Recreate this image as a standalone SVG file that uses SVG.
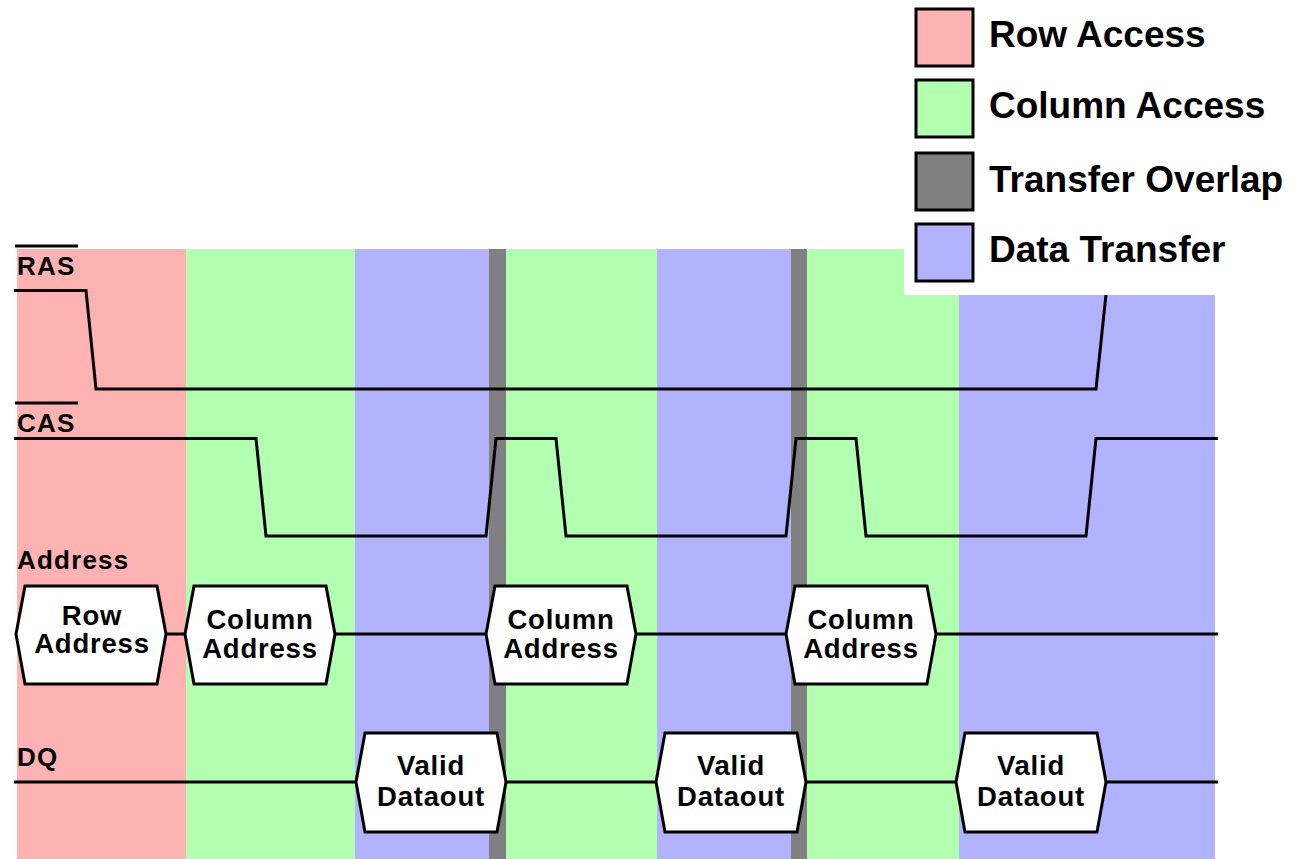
<svg xmlns="http://www.w3.org/2000/svg" width="1293" height="859" viewBox="0 0 1293 859">
<style>
.row{fill:#ffb2b2}.col{fill:#b2ffb2}.ovl{fill:#808080}.dat{fill:#b2b2ff}
.sig{fill:none;stroke:#000;stroke-width:3;stroke-linejoin:miter}
.hex{fill:#fff;stroke:#000;stroke-width:3}
.lbl{font-family:"Liberation Sans",Arial,sans-serif;font-weight:bold;font-size:26px;letter-spacing:1.2px;fill:#000}
.ht{font-family:"Liberation Sans",Arial,sans-serif;font-weight:bold;font-size:27.5px;letter-spacing:0.8px;fill:#000;text-anchor:middle}
.lg{font-family:"Liberation Sans",Arial,sans-serif;font-weight:bold;font-size:37px;fill:#000}
.lgbox{stroke:#000;stroke-width:3}
</style>
<rect width="1293" height="859" fill="#fff"/>
<g id="phases">
<rect class="row" x="17" y="249" width="169" height="610"/>
<rect class="col" x="186" y="249" width="169" height="610"/>
<rect class="dat" x="355" y="249" width="134" height="610"/>
<rect class="ovl" x="489" y="249" width="17" height="610"/>
<rect class="col" x="506" y="249" width="151" height="610"/>
<rect class="dat" x="657" y="249" width="134" height="610"/>
<rect class="ovl" x="791" y="249" width="16" height="610"/>
<rect class="col" x="807" y="249" width="152" height="610"/>
<rect class="dat" x="959" y="249" width="256" height="610"/>
</g>
<g id="connectors">
<path class="sig" d="M14,290.5 H86 L96,389 H1096 L1107,285"/>
<path class="sig" d="M14,438.5 H256 L266,536 H486 L496,438.5 H556 L566,536 H786 L796,438.5 H856 L866,536 H1086 L1096,438.5 H1218"/>
<path class="sig" d="M166,634 H185 M335,634 H486 M636,634 H786 M936,634 H1218"/>
<path class="sig" d="M14,782 H356 M506,782 H656 M806,782 H956 M1106,782 H1218"/>
</g>
<g id="signal-labels">
<text class="lbl" x="17" y="275">RAS</text>
<rect x="15" y="244.5" width="63" height="3"/>
<text class="lbl" x="17" y="432">CAS</text>
<rect x="15" y="401.5" width="63" height="3"/>
<text class="lbl" x="17" y="569">Address</text>
<text class="lbl" x="17" y="766">DQ</text>
</g>
<g id="row-address">
<polygon class="hex" points="16,634 25,586 157,586 166,634 157,684 25,684"/>
<text class="ht" x="92" y="625">Row</text>
<text class="ht" x="92" y="653">Address</text>
</g>
<g id="column-address-1">
<polygon class="hex" points="185,634 194,586 326,586 335,634 326,684 194,684"/>
<text class="ht" x="260" y="629">Column</text>
<text class="ht" x="260" y="658">Address</text>
</g>
<g id="column-address-2">
<polygon class="hex" points="486,634 495,586 627,586 636,634 627,684 495,684"/>
<text class="ht" x="561" y="629">Column</text>
<text class="ht" x="561" y="658">Address</text>
</g>
<g id="column-address-3">
<polygon class="hex" points="786,634 795,586 927,586 936,634 927,684 795,684"/>
<text class="ht" x="861" y="629">Column</text>
<text class="ht" x="861" y="658">Address</text>
</g>
<g id="dataout-1">
<polygon class="hex" points="356,782 365,733 497,733 506,782 497,832 365,832"/>
<text class="ht" x="431" y="775">Valid</text>
<text class="ht" x="431" y="806">Dataout</text>
</g>
<g id="dataout-2">
<polygon class="hex" points="656,782 665,733 797,733 806,782 797,832 665,832"/>
<text class="ht" x="731" y="775">Valid</text>
<text class="ht" x="731" y="806">Dataout</text>
</g>
<g id="dataout-3">
<polygon class="hex" points="956,782 965,733 1097,733 1106,782 1097,832 965,832"/>
<text class="ht" x="1031" y="775">Valid</text>
<text class="ht" x="1031" y="806">Dataout</text>
</g>
<g id="legend">
<rect x="904" y="0" width="389" height="295" fill="#fff"/>
<rect class="row lgbox" x="916" y="9" width="57" height="57"/>
<text class="lg" x="989" y="47">Row Access</text>
<rect class="col lgbox" x="916" y="80" width="57" height="57"/>
<text class="lg" x="989" y="118">Column Access</text>
<rect class="ovl lgbox" x="916" y="153" width="57" height="57"/>
<text class="lg" x="989" y="192">Transfer Overlap</text>
<rect class="dat lgbox" x="916" y="224" width="57" height="57"/>
<text class="lg" x="989" y="262">Data Transfer</text>
</g>
</svg>
